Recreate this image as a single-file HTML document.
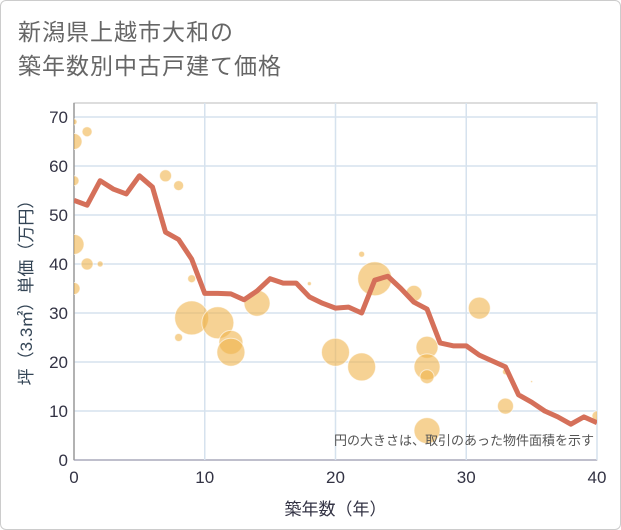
<!DOCTYPE html>
<html><head><meta charset="utf-8">
<style>
body{margin:0;background:#fff;}
#wrap{position:relative;width:621px;height:530px;box-sizing:border-box;border:1px solid #ccc;border-radius:6px;background:#fff;overflow:hidden;font-family:"Liberation Sans","Noto Sans CJK JP",sans-serif;}
.title{position:absolute;left:17px;top:14px;font-size:23px;line-height:34px;color:#666;letter-spacing:1px;}
svg{position:absolute;left:0;top:0;}
</style></head><body>
<div id="wrap">
<div class="title">新潟県上越市大和の<br>築年数別中古戸建て価格</div>
<svg id="chart" width="621" height="530"><defs><clipPath id="plotclip"><rect x="73" y="102" width="523" height="357"/></clipPath></defs></svg>
</div>
<script>
const xTicks=[0,10,20,30,40];
const yTicks=[0,10,20,30,40,50,60,70];
const lineAges=[0,1,2,3,4,5,6,7,8,9,10,11,12,13,14,15,16,17,18,19,20,21,22,23,24,25,26,27,28,29,30,31,32,33,34,35,36,37,38,39,40];
const linePrices=[53,52,57,55.3,54.3,58,55.7,46.5,45,41,34,34,33.9,32.7,34.5,37,36.1,36.1,33.3,32,31,31.2,30,36.7,37.5,35,32.2,30.8,23.9,23.3,23.3,21.4,20.2,19,13.3,11.8,10,8.8,7.3,8.8,7.6];
const bubbleAges=[0,0,1,0,0,1,2,0,7,8,9,8,9,11,12,12,14,18,20,22,22,23,26,27,27,27,27,31,33,33,35,40];
const bubblePrices=[69,65,67,57,44,40,40,35,58,56,37,25,29,28,24,22,32,36,22,42,19,37,34,23,19,17,6,31,18,11,16,9];
const bubbleSizes=[3,8,5,5,10,6,3,6,6,5,4,4,17,16,12,14,13,2,14,3,14,17,8,11,13,7,13,11,3,8,1,5];

const X0=73,X1=596,Y0=459,Y1=116;
const sx=v=>X0+(X1-X0)*v/40;
const sy=v=>Y0-(Y0-Y1)*v/70;
const svg=document.getElementById('chart');
const NS='http://www.w3.org/2000/svg';
function mk(t,a,p){const e=document.createElementNS(NS,t);for(const k in a)e.setAttribute(k,a[k]);(p||svg).appendChild(e);return e;}

mk('rect',{x:X0,y:102,width:X1-X0,height:Y0-102,fill:'#fff',stroke:'#bbb'});
yTicks.forEach(t=>{
  const g=mk('line',{x1:X0,x2:X1,y1:sy(t),y2:sy(t),stroke:t===0?'#aab':'#d6e2ee','stroke-width':1.5});
  
  
  const l=mk('text',{x:X0-6,y:sy(t)+6,'text-anchor':'end','font-size':17,fill:'#334'});
  l.textContent=t;
  
  
});
xTicks.forEach(t=>{
  const g=mk('line',{x1:sx(t),x2:sx(t),y1:102,y2:Y0,stroke:t===0?'#999':'#d6e2ee','stroke-width':1.5});
  
  
  const l=mk('text',{x:sx(t),y:Y0+23,'text-anchor':'middle','font-size':17,fill:'#334'});
  l.textContent=t;
  
  
});
const plot=mk('g',{'clip-path':'url(#plotclip)'});


bubbleAges.forEach((a,i)=>{
  const c=mk('circle',{cx:sx(a),cy:sy(bubblePrices[i]),r:bubbleSizes[i],fill:'#f0b44c','fill-opacity':0.6,stroke:'#fff','stroke-opacity':0.6},plot);
  
  
});
const pl=mk('polyline',{points:lineAges.map((a,i)=>sx(a)+','+sy(linePrices[i])).join(' '),fill:'none',stroke:'#d5705a','stroke-width':5,'stroke-linejoin':'round'},plot);


const n=mk('text',{x:593,y:444,'text-anchor':'end','font-size':13,fill:'#555'});
n.textContent='円の大きさは、取引のあった物件面積を示す';


const xt=mk('text',{x:(X0+X1)/2,y:514,'text-anchor':'middle','font-size':17,fill:'#334'});
xt.textContent='築年数（年）';


const yt=mk('text',{x:0,y:0,'text-anchor':'middle','font-size':17,fill:'#345',transform:'translate(31,'+((Y0+Y1)/2)+') rotate(-90)'});
yt.textContent='坪（3.3㎡）単価（万円）';


</script>
</body></html>
